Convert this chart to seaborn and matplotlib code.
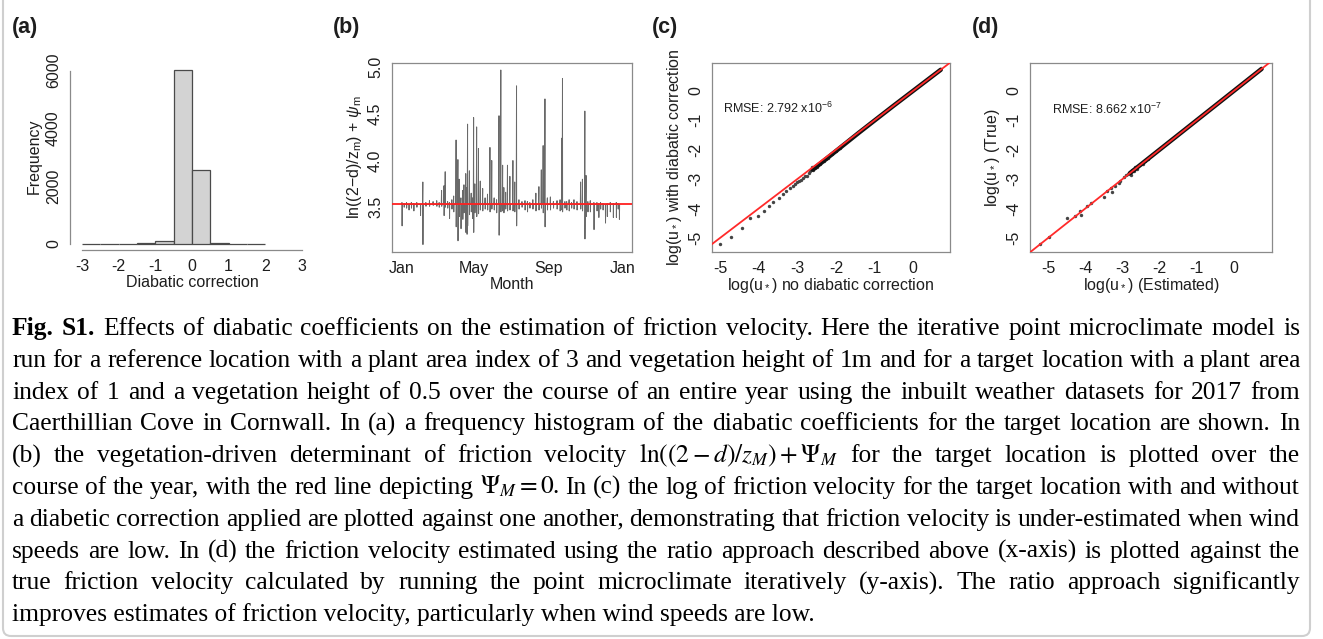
import numpy as np
import pandas as pd
import matplotlib
matplotlib.use("Agg")
import matplotlib.pyplot as plt
import seaborn as sns
from matplotlib.patches import FancyBboxPatch
from matplotlib.transforms import IdentityTransform

# ---------------- data ----------------
# (a) histogram of diabatic correction
hist_edges = [-3.0, -2.5, -2.0, -1.5, -1.0, -0.5, 0.0, 0.5, 1.0, 1.5, 2.0]
hist_counts = [3, 0, 5, 30, 90, 6020, 2560, 25, 0, 4]

# (b) hourly spikes of ln((2-d)/zm)+psi_m : day of year, spike top, spike bottom
spike_day = [0.5, 4, 8, 12, 16, 20, 25, 31, 35, 40, 46, 52, 58, 62, 66, 70, 72, 76, 79, 83,
             86, 90, 93, 95, 98, 101, 103, 106, 108, 109, 112, 115, 117, 119, 121, 124, 127,
             130, 134, 138, 142, 146, 149, 153, 157, 161, 164, 167, 169, 172, 175, 179, 184,
             187, 190, 194, 199, 204, 208, 212, 217, 222, 227, 231, 234, 237, 241, 246, 251,
             257, 262, 265, 266, 270, 273, 277, 281, 285, 290, 296, 299, 303, 305, 308, 312,
             318, 323, 326, 329, 333, 337, 340, 345, 350, 355, 358, 360]
spike_high = [3.55, 3.54, 3.55, 3.53, 3.55, 3.54, 3.55, 3.53, 3.77, 3.55, 3.57, 3.56, 3.57, 3.55,
              3.68, 3.73, 3.88, 3.56, 3.55, 3.58, 3.62, 4.22, 4.01, 3.80, 3.60, 3.68, 3.74, 3.86,
              3.71, 4.39, 3.89, 3.65, 3.60, 4.46, 3.75, 4.36, 4.13, 3.78, 3.70, 3.60, 3.64, 4.14,
              4.00, 3.60, 3.58, 4.48, 4.97, 3.95, 3.71, 3.66, 3.95, 3.83, 4.00, 3.77, 4.80, 3.58,
              3.56, 3.57, 3.56, 3.55, 3.58, 3.65, 3.72, 3.90, 4.16, 4.66, 3.60, 3.61, 3.56, 3.57,
              3.58, 4.24, 4.88, 3.56, 3.56, 3.58, 3.55, 3.58, 3.56, 3.77, 3.80, 4.53, 3.84, 3.56,
              3.57, 3.55, 3.55, 3.54, 3.55, 3.54, 3.53, 3.54, 3.55, 3.54, 3.55, 3.54, 3.53]
spike_low = [3.30, 3.50, 3.49, 3.47, 3.49, 3.46, 3.50, 3.41, 3.10, 3.51, 3.51, 3.52, 3.51, 3.50,
             3.51, 3.41, 3.50, 3.49, 3.38, 3.48, 3.45, 3.29, 3.14, 3.40, 3.27, 3.37, 3.44, 3.23,
             3.21, 3.30, 3.42, 3.45, 3.38, 3.23, 3.44, 3.40, 3.43, 3.47, 3.46, 3.48, 3.47, 3.45,
             3.48, 3.47, 3.44, 3.20, 3.45, 3.46, 3.44, 3.48, 3.46, 3.47, 3.46, 3.45, 3.30, 3.48,
             3.50, 3.47, 3.45, 3.49, 3.48, 3.46, 3.47, 3.49, 3.44, 3.29, 3.47, 3.47, 3.49, 3.48,
             3.46, 3.47, 3.45, 3.49, 3.47, 3.46, 3.49, 3.48, 3.47, 3.48, 3.46, 3.16, 3.40, 3.45,
             3.45, 3.26, 3.46, 3.39, 3.48, 3.47, 3.33, 3.40, 3.45, 3.39, 3.39, 3.48, 3.37]
psi_zero_level = 3.53
month_ticks = [0, 59, 120, 181, 243, 304, 365]
month_labels = ["Jan", "", "May", "", "Sep", "", "Jan"]

# (c) log(u*) without vs with diabatic correction
c_sparse_x = [-5.00, -4.71, -4.42, -4.22, -4.03, -3.87, -3.74, -3.62, -3.48, -3.36, -3.28, -3.20,
              -3.12, -3.05, -3.00, -2.95, -2.90, -2.85, -2.80, -2.75, -2.70, -2.68, -2.62, -2.58,
              -2.55, -2.50, -2.45, -2.40, -2.35, -2.30, -2.25, -2.20, -2.15, -2.10, -2.00, -1.90]
c_sparse_y = [-5.20, -4.98, -4.66, -4.34, -4.27, -4.07, -3.91, -3.78, -3.65, -3.50, -3.40, -3.30,
              -3.22, -3.17, -3.10, -3.05, -3.02, -2.95, -2.90, -2.88, -2.80, -2.72, -2.60, -2.70,
              -2.62, -2.60, -2.52, -2.48, -2.40, -2.38, -2.30, -2.28, -2.18, -2.16, -2.05, -1.95]
c_band_x = [-2.60, -2.20, -1.80, -1.40, -1.00, -0.50, 0.00, 0.40, 0.72]
c_band_y = [-2.68, -2.26, -1.84, -1.42, -1.01, -0.50, 0.00, 0.40, 0.72]
rmse_c = r"RMSE: 2.792 x10$^{-6}$"

# (d) log(u*) estimated vs true
d_sparse_x = [-5.23, -4.99, -4.48, -4.27, -4.14, -4.12, -3.95, -3.86, -3.50, -3.41, -3.32, -3.27,
              -3.19, -3.10, -3.07, -2.95, -2.90, -2.85, -2.78, -2.75, -2.70, -2.65, -2.60, -2.55,
              -2.50, -2.45, -2.40, -2.30, -2.20]
d_sparse_y = [-5.21, -4.98, -4.33, -4.27, -4.07, -4.21, -3.90, -3.80, -3.60, -3.39, -3.31, -3.45,
              -3.25, -3.14, -3.08, -2.93, -2.85, -2.82, -2.86, -2.70, -2.72, -2.60, -2.64, -2.52,
              -2.50, -2.48, -2.38, -2.32, -2.18]
d_band_x = [-2.80, -2.40, -2.00, -1.50, -1.00, -0.50, 0.00, 0.40, 0.75]
d_band_y = [-2.80, -2.40, -2.00, -1.50, -1.00, -0.50, 0.00, 0.40, 0.75]
rmse_d = r"RMSE: 8.662 x10$^{-7}$"

caption_lines = [
    "Fig. S1. Effects of diabatic coefficients on the estimation of friction velocity. Here the iterative point microclimate model is",
    "run for a reference location with a plant area index of 3 and vegetation height of 1m and for a target location with a plant area",
    "index of 1 and a vegetation height of 0.5 over the course of an entire year using the inbuilt weather datasets for 2017 from",
    "Caerthillian Cove in Cornwall. In (a) a frequency histogram of the diabatic coefficients for the target location are shown. In",
    r"(b) the vegetation-driven determinant of friction velocity $\ln((2-d)/z_M)+\mathit{\Psi}_M$ for the target location is plotted over the",
    r"course of the year, with the red line depicting $\mathit{\Psi}_M=0$. In (c) the log of friction velocity for the target location with and without",
    "a diabetic correction applied are plotted against one another, demonstrating that friction velocity is under-estimated when wind",
    "speeds are low. In (d) the friction velocity estimated using the ratio approach described above (x-axis) is plotted against the",
    "true friction velocity calculated by running the point microclimate iteratively (y-axis). The ratio approach significantly",
    "improves estimates of friction velocity, particularly when wind speeds are low.",
]

# ---------------- style ----------------
sns.set_theme(style="white")
plt.rcParams["font.family"] = ["Liberation Sans", "DejaVu Sans"]
plt.rcParams["mathtext.fontset"] = "custom"
plt.rcParams["mathtext.rm"] = "Liberation Sans"
plt.rcParams["mathtext.it"] = "Liberation Sans:italic"
plt.rcParams["mathtext.bf"] = "Liberation Sans:bold"

W, H = 1323, 639
fig = plt.figure(figsize=(W / 100, H / 100), dpi=100)
fig.patch.set_facecolor("white")

TXT = "#1e1e1e"
AX = "#8a8a8a"
FS = 11.5


def rect(l, r, t, b):
    return [l / W, 1 - b / H, (r - l) / W, (b - t) / H]


def style_ticks(ax):
    ax.tick_params(axis="both", direction="out", length=5, width=0.8, color=AX,
                   labelsize=FS, labelcolor=TXT, pad=1.5)
    ax.tick_params(axis="y", labelrotation=90)
    for lab in ax.get_yticklabels():
        lab.set_va("center")


# ---------------- (a) ----------------
axA = fig.add_axes(rect(70, 314, 63, 250))
centers = [(a + b) / 2 for a, b in zip(hist_edges[:-1], hist_edges[1:])]
sns.histplot(x=centers, weights=hist_counts, bins=hist_edges, color="#d3d3d3",
             edgecolor="#4a4a4a", linewidth=0.9, alpha=1, ax=axA)
axA.set_xlim(-3.33, 3.33)
axA.set_ylim(-207, 6260)
for s in ["top", "right"]:
    axA.spines[s].set_visible(False)
axA.spines["left"].set_bounds(0, 6000)
axA.spines["bottom"].set_bounds(-3, 3)
for s in ["left", "bottom"]:
    axA.spines[s].set_color(AX)
    axA.spines[s].set_linewidth(0.9)
axA.set_xticks([-3, -2, -1, 0, 1, 2, 3])
axA.set_xticklabels(["-3", "-2", "-1", "0", "1", "2", "3"])
axA.set_yticks([0, 1000, 2000, 3000, 4000, 5000, 6000])
axA.set_yticklabels(["0", "", "2000", "", "4000", "", "6000"])
axA.set_xlabel("Diabatic correction", fontsize=FS, color=TXT, labelpad=1)
axA.set_ylabel("Frequency", fontsize=FS, color=TXT, labelpad=3)
style_ticks(axA)

# ---------------- (b) ----------------
axB = fig.add_axes(rect(392, 632, 63, 252))
bx, by = [], []
for d, hi, lo in zip(spike_day, spike_high, spike_low):
    bx += [d - 0.5, d, d + 0.2, d + 0.5]
    by += [psi_zero_level, hi, lo, psi_zero_level]
df_b = pd.DataFrame({"day": bx, "val": by})
sns.lineplot(data=df_b, x="day", y="val", sort=False, estimator=None,
             color="#2a2a2a", linewidth=0.7, alpha=0.7, ax=axB)
axB.axhline(psi_zero_level, color="#ff2020", linewidth=1.3, zorder=5)
axB.set_xlim(-16, 381)
axB.set_ylim(3.02, 5.045)
axB.set_xticks(month_ticks)
axB.set_xticklabels(month_labels)
axB.set_yticks([3.5, 4.0, 4.5, 5.0])
axB.set_yticklabels(["3.5", "4.0", "4.5", "5.0"])
axB.set_xlabel("Month", fontsize=FS, color=TXT, labelpad=1)
axB.set_ylabel(r"ln((2$-$d)/z$_{\rm m}$) + $\psi_{\rm m}$", fontsize=FS, color=TXT, labelpad=3)
for s in axB.spines.values():
    s.set_color(AX)
    s.set_linewidth(0.9)
style_ticks(axB)

# ---------------- (c) & (d) ----------------
def scatter_panel(ax, sx, sy, bandx, bandy, xlim, ylim, rmse, xl, yl, rmse_xy):
    sns.lineplot(x=bandx, y=bandy, sort=False, estimator=None, color="#111111",
                 linewidth=3.2, ax=ax)
    sns.scatterplot(x=sx, y=sy, s=6, color="#444444", linewidth=0, ax=ax)
    ax.axline((0, 0), (1, 1), color="#ff2a2a", linewidth=1.3, zorder=5)
    ax.set_xlim(*xlim)
    ax.set_ylim(*ylim)
    ax.set_xticks([-5, -4, -3, -2, -1, 0])
    ax.set_xticklabels(["-5", "-4", "-3", "-2", "-1", "0"])
    ax.set_yticks([-5, -4, -3, -2, -1, 0])
    ax.set_yticklabels(["-5", "-4", "-3", "-2", "-1", "0"])
    ax.set_xlabel(xl, fontsize=FS, color=TXT, labelpad=0)
    ax.set_ylabel(yl, fontsize=FS, color=TXT, labelpad=3)
    ax.text(rmse_xy[0], rmse_xy[1], rmse, fontsize=9, color=TXT, ha="center", va="center")
    for s in ax.spines.values():
        s.set_color(AX)
        s.set_linewidth(0.9)
    style_ticks(ax)


ustar = r"log($\mathregular{u_*}$)"
axC = fig.add_axes(rect(712, 950, 63, 252))
scatter_panel(axC, c_sparse_x, c_sparse_y, c_band_x, c_band_y, (-5.21, 0.96), (-5.48, 0.95),
              rmse_c, ustar + " no diabatic correction", ustar + " with diabatic correction",
              (-3.5, -0.6))
axD = fig.add_axes(rect(1030, 1272, 63, 252))
scatter_panel(axD, d_sparse_x, d_sparse_y, d_band_x, d_band_y, (-5.49, 1.03), (-5.48, 0.95),
              rmse_d, ustar + " (Estimated)", ustar + " (True)", (-3.42, -0.62))

# panel letters
for lab, x in [("(a)", 12), ("(b)", 333), ("(c)", 652), ("(d)", 972)]:
    fig.text(x / W, 1 - 28 / H, lab, fontsize=15.5, fontweight="bold", color=TXT,
             ha="left", va="center")

# ---------------- caption (justified) ----------------
renderer = fig.canvas.get_renderer()
serif = "Liberation Serif"
LEFT, RIGHT = 12, 1300
probe = fig.text(0, 0, caption_lines[6], fontsize=16, family=serif)
wprobe = probe.get_window_extent(renderer).width
probe.remove()
cfs = 16 * 1292 / wprobe

base0, step = 335, 31.8
for i, line in enumerate(caption_lines):
    yb = 1 - (base0 + i * step) / H
    if i == len(caption_lines) - 1:
        fig.text(LEFT / W, yb, line, fontsize=cfs, family=serif, color="black",
                 ha="left", va="baseline", math_fontfamily="stix")
        continue
    toks = line.split(" ")
    objs, widths = [], []
    for j, tk in enumerate(toks):
        bold = (i == 0 and j < 2)
        t = fig.text(0, yb, tk, fontsize=cfs, family=serif, color="black",
                     fontweight="bold" if bold else "normal", ha="left", va="baseline",
                     math_fontfamily="stix")
        objs.append(t)
        widths.append(t.get_window_extent(renderer).width)
    gap = (RIGHT - LEFT - sum(widths)) / (len(toks) - 1)
    x = LEFT
    for t, w in zip(objs, widths):
        t.set_x(x / W)
        x += w + gap

# border
fig.patches.append(FancyBboxPatch((3, 3), 1307, 700,
                                  boxstyle="round,pad=0,rounding_size=8",
                                  transform=IdentityTransform(), facecolor="none",
                                  edgecolor="#cfcfcf", linewidth=1.5, figure=fig))

fig.savefig("out.png", dpi=100)
